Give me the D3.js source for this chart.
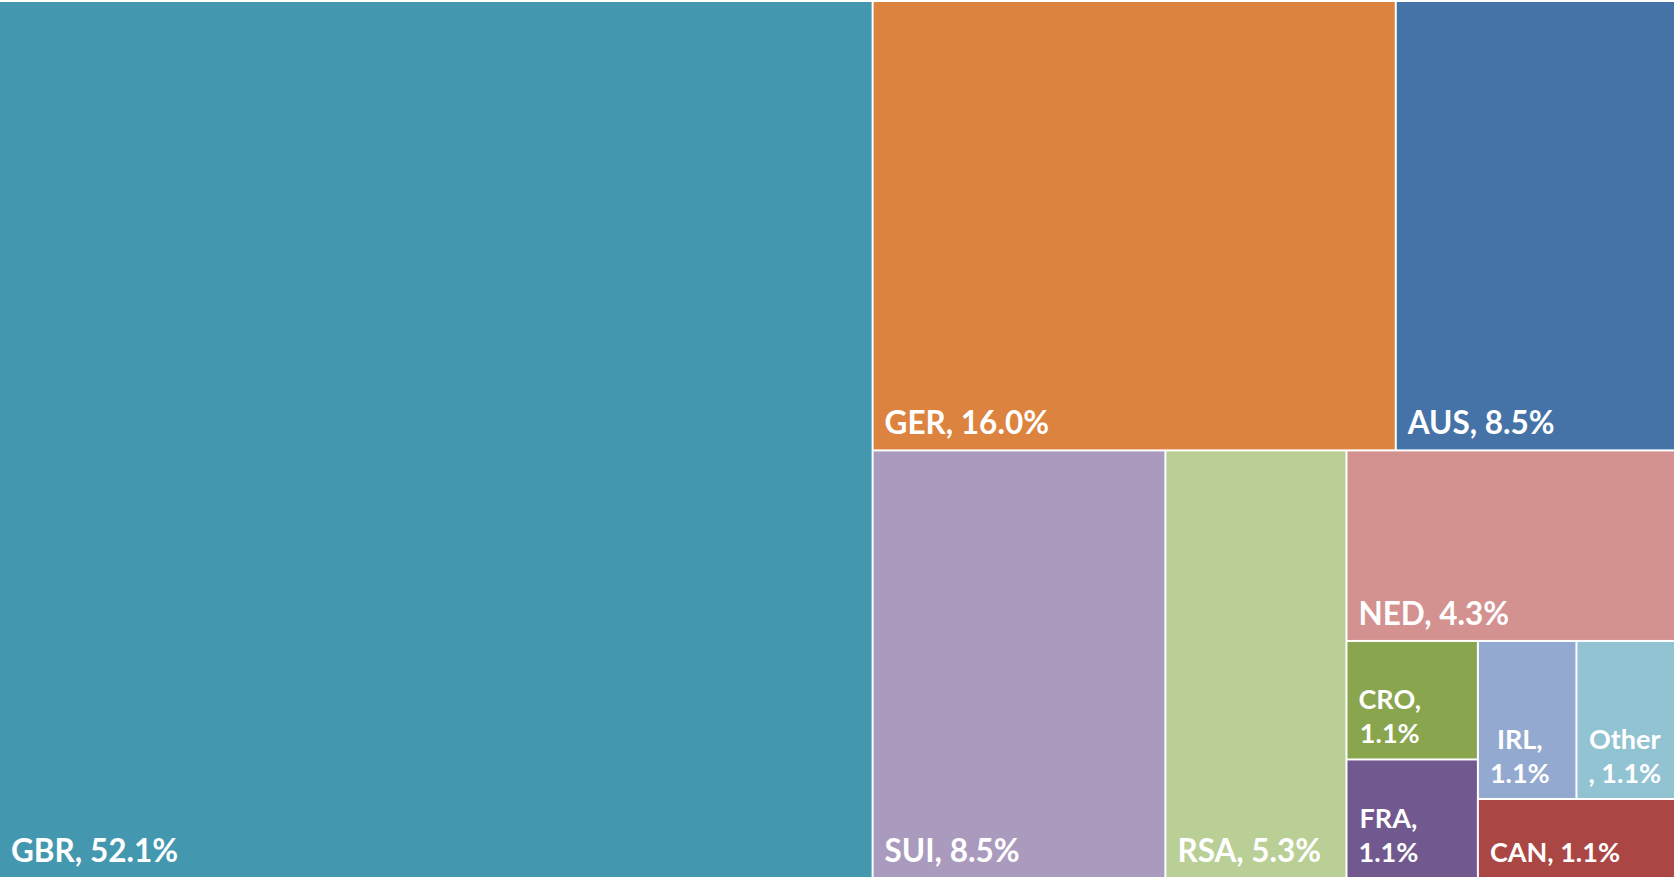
<!DOCTYPE html>
<html>
<head>
<meta charset="utf-8">
<script src="https://cdn.jsdelivr.net/npm/d3@7"></script>
<style>
  html, body { margin: 0; padding: 0; background: #fff; }
  svg { display: block; }
  .label { font-family: Lato, "Open Sans", sans-serif; font-weight: bold; fill: #fff; }
</style>
</head>
<body>
<div id="chart"></div>
<script>
// Share of entries by country (%), read from the tile areas
const countries = ["GBR", "GER", "AUS", "SUI", "RSA", "NED", "CRO", "FRA", "IRL", "Other", "CAN"];
const shares = [52.14, 16.0, 8.54, 8.52, 5.27, 4.26, 1.06, 1.06, 1.06, 1.06, 1.06];
const colors = ["#4398B0", "#DC843F", "#4573A7", "#AA9BBE", "#B9CF96", "#D39190",
                "#89A54E", "#71588F", "#93A9CF", "#92C3D3", "#AA4644"];

// how many tiles go in each strip of the layout (same grouping as the original)
const stripSizes = [1, 2, 1, 1, 1, 2, 2, 1];

const width = 1674, height = 877, topGap = 2;

const svg = d3.select("#chart").append("svg")
    .attr("width", width)
    .attr("height", height);

// strip tiling: each strip runs along the short side of what is left
function stripTile(parent, x0, y0, x1, y1) {
    const nodes = parent.children;
    let value = parent.value, i0 = 0;
    stripSizes.forEach(k => {
        const kids = nodes.slice(i0, i0 + k);
        const row = {value: d3.sum(kids, d => d.value), children: kids};
        const dx = x1 - x0, dy = y1 - y0;
        if (dx < dy) {
            const yy = y0 + dy * row.value / value;
            d3.treemapDice(row, x0, y0, x1, yy);
            y0 = yy;
        } else {
            const xx = x0 + dx * row.value / value;
            d3.treemapSlice(row, x0, y0, xx, y1);
            x0 = xx;
        }
        value -= row.value;
        i0 += k;
    });
}

const root = d3.hierarchy({children: countries.map((c, i) => ({name: c, value: shares[i], color: colors[i]}))})
    .sum(d => d.value || 0);

d3.treemap()
    .size([width, height - topGap])
    .paddingInner(2)
    .tile(stripTile)(root);

const g = svg.append("g").attr("transform", `translate(0,${topGap})`);

const cell = g.selectAll("g.cell")
    .data(root.leaves())
    .enter().append("g")
    .attr("class", "cell");

cell.append("rect")
    .attr("x", d => d.x0)
    .attr("y", d => d.y0)
    .attr("width", d => d.x1 - d.x0)
    .attr("height", d => d.y1 - d.y0)
    .attr("fill", d => d.data.color);

// text measuring
const ctx = document.createElement("canvas").getContext("2d");
const measure = (s, size) => { ctx.font = `bold ${size}px Lato`; return ctx.measureText(s).width; };

function wrap(text, size, maxW) {
    const words = text.split(" ");
    const lines = [];
    let cur = "", glue = false;
    words.forEach(w => {
        const test = cur ? cur + " " + w : w;
        if (glue || measure(test, size) <= maxW) { cur = test; glue = false; return; }
        if (cur) { lines.push(cur); cur = ""; }
        // word too long on its own: break it where it fits, the rest sticks to the next word
        let piece = w;
        while (measure(piece, size) > maxW && piece.length > 1) {
            let j = piece.length - 1;
            while (j > 1 && measure(piece.slice(0, j), size) > maxW) j--;
            lines.push(piece.slice(0, j));
            piece = piece.slice(j);
            glue = true;
        }
        cur = piece;
    });
    if (cur) lines.push(cur);
    return lines;
}

const pad = 11;

cell.each(function(d) {
    const w = d.x1 - d.x0, h = d.y1 - d.y0;
    const size = Math.min(w, h) < 150 ? 27 : 31.5;
    const lineH = 34;
    const label = d.data.name + ", " + d3.format(".1f")(d.data.value) + "%";
    const lines = wrap(label, size, w - pad - 13);
    const blockW = d3.max(lines, l => measure(l, size));
    const cx = d.x0 + pad + blockW / 2;
    const baseY = d.y1 - 15;
    const t = d3.select(this).append("text")
        .attr("class", "label")
        .style("font-size", size + "px")
        .attr("text-anchor", "middle");
    lines.forEach((l, i) => {
        t.append("tspan")
            .attr("x", cx)
            .attr("y", baseY - (lines.length - 1 - i) * lineH)
            .text(l);
    });
});
</script>
</body>
</html>
